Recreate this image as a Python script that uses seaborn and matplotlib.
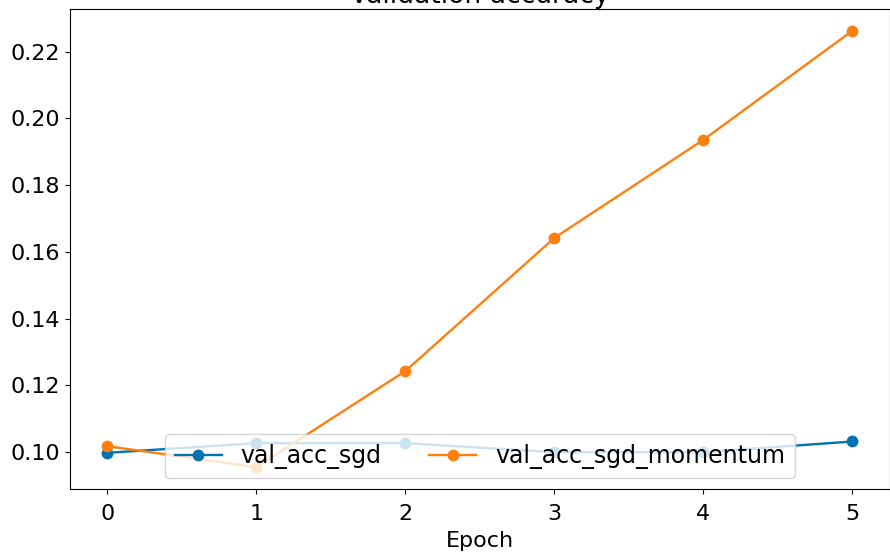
import matplotlib
matplotlib.use("Agg")
import matplotlib.pyplot as plt
import seaborn as sns
import pandas as pd

epochs = [0, 1, 2, 3, 4, 5]
val_acc_sgd = [0.0998, 0.1027, 0.1027, 0.1000, 0.1000, 0.1032]
val_acc_sgd_momentum = [0.1018, 0.0955, 0.1243, 0.1642, 0.1936, 0.2263]
series_names = ["val_acc_sgd", "val_acc_sgd_momentum"]
colors = ["#0173b2", "#ff7f0e"]

df = pd.DataFrame({
    "Epoch": epochs * 2,
    "value": val_acc_sgd + val_acc_sgd_momentum,
    "series": [series_names[0]] * len(epochs) + [series_names[1]] * len(epochs),
})

plt.rcParams["font.size"] = 16
plt.rcParams["font.family"] = ["DejaVu Sans"]

fig = plt.figure(figsize=(8.9, 5.59), dpi=100)
ax = fig.add_axes([0.0787, 0.1252, 0.921, 0.859])

sns.lineplot(data=df, x="Epoch", y="value", hue="series", palette=colors,
             marker="o", markeredgewidth=0, markersize=8.5, linewidth=1.7, ax=ax)

ax.set_title("Validation accuracy", pad=4)
ax.set_xlabel("Epoch", labelpad=5)
ax.set_ylabel("")
ax.tick_params(axis="x", pad=7)
ax.legend(loc="lower center", ncol=2, title=None, fontsize=17,
          borderaxespad=0.45)

fig.savefig("out.png", dpi=100)
